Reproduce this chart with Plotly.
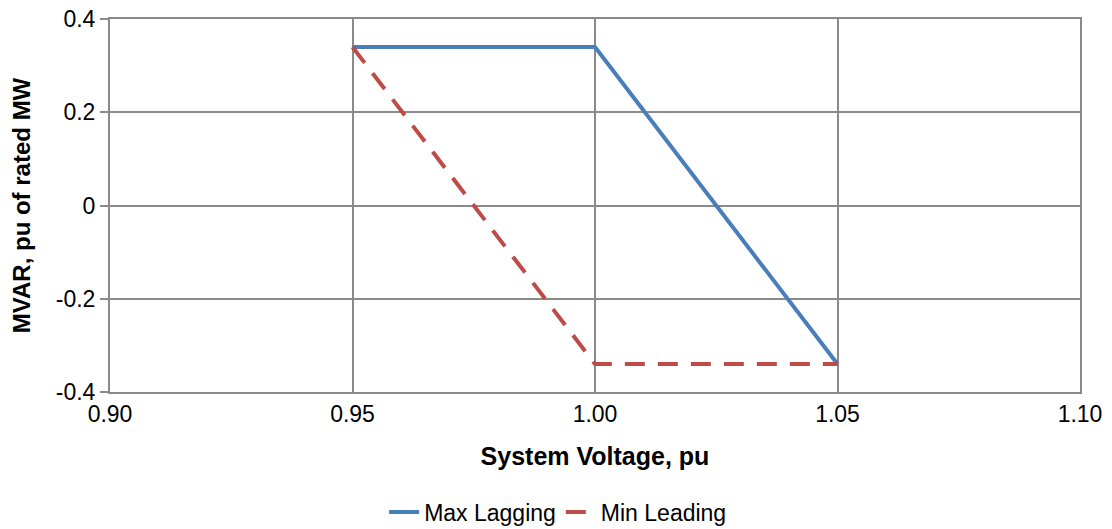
import plotly.graph_objects as go

voltage = [0.95, 1.00, 1.05]
max_lagging = [0.34, 0.34, -0.34]
min_leading = [0.34, -0.34, -0.34]
x_ticks = [0.90, 0.95, 1.00, 1.05, 1.10]
x_tick_labels = ["0.90", "0.95", "1.00", "1.05", "1.10"]
y_ticks = [-0.4, -0.2, 0, 0.2, 0.4]
y_tick_labels = ["-0.4", "-0.2", "0", "0.2", "0.4"]

fig = go.Figure()
fig.add_trace(go.Scatter(x=voltage, y=max_lagging, mode="lines", name="Max Lagging",
                         line=dict(color="#4a7ebb", width=4)))
fig.add_trace(go.Scatter(x=voltage, y=min_leading, mode="lines", name="Min Leading",
                         line=dict(color="#be4b48", width=4, dash="20px,13px")))

fig.update_layout(
    width=1096, height=521,
    margin=dict(l=102, r=24, t=11, b=137, autoexpand=False),
    plot_bgcolor="white", paper_bgcolor="white",
    font=dict(family="Liberation Sans, Arial", size=23, color="black"),
    showlegend=True,
    legend=dict(orientation="h", x=0.462, xanchor="center", y=-0.322, yanchor="middle",
                font=dict(size=23), tracegroupgap=0, itemwidth=30),
    xaxis=dict(range=[0.90, 1.10], tickvals=x_ticks, ticktext=x_tick_labels,
               tickfont=dict(size=23), ticklabeloverflow="allow",
               showgrid=True, gridcolor="#8a8a8a", gridwidth=2,
               showline=True, linecolor="#8a8a8a", linewidth=2, mirror=True,
               zeroline=False, ticks="", ticklen=0,
               title=dict(text="<b>System Voltage, pu</b>", font=dict(size=25), standoff=22)),
    yaxis=dict(range=[-0.4, 0.4], tickvals=y_ticks, ticktext=y_tick_labels,
               tickfont=dict(size=23), ticklabeloverflow="allow",
               showgrid=True, gridcolor="#8a8a8a", gridwidth=2,
               showline=True, linecolor="#8a8a8a", linewidth=2, mirror=True,
               zeroline=False, ticks="outside", ticklen=8, tickcolor="#8a8a8a", tickwidth=2,
               title=dict(text="<b>MVAR, pu of rated MW</b>", font=dict(size=24), standoff=18)),
)

fig.write_html("out.html")
